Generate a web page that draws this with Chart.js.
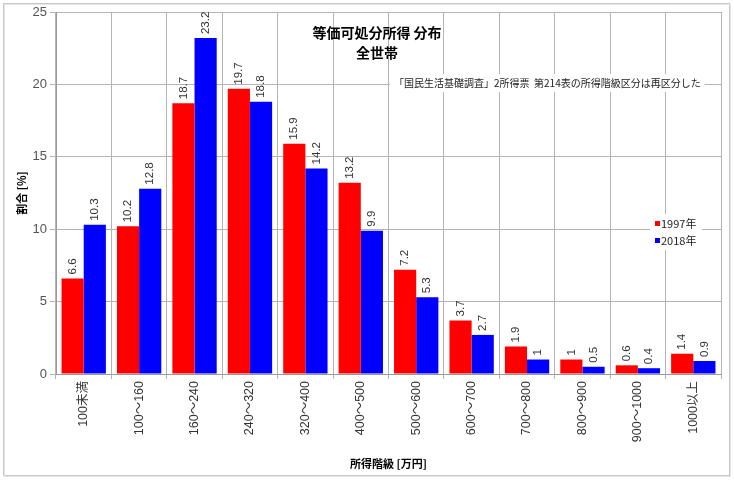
<!DOCTYPE html>
<html>
<head>
<meta charset="utf-8">
<script src="https://cdn.jsdelivr.net/npm/chart.js@4.4.1/dist/chart.umd.min.js"></script>
<style>
  html, body { margin: 0; padding: 0; background: #fff; }
  #wrap { width: 734px; height: 480px; position: relative; }
</style>
</head>
<body>
<div id="wrap"><canvas id="chart" width="734" height="480"></canvas></div>
<script>
// dati del grafico
var categories = ["100未満", "100～160", "160～240", "240～320", "320～400", "400～500",
                  "500～600", "600～700", "700～800", "800～900", "900～1000", "1000以上"];
var values1997 = [6.6, 10.2, 18.7, 19.7, 15.9, 13.2, 7.2, 3.7, 1.9, 1, 0.6, 1.4];
var values2018 = [10.3, 12.8, 23.2, 18.8, 14.2, 9.9, 5.3, 2.7, 1, 0.5, 0.4, 0.9];
var seriesNames = ["1997年", "2018年"];
var yTicks = [0, 5, 10, 15, 20, 25];
var titleLines = ["等価可処分所得 分布", "全世帯"];
var noteText = "「国民生活基礎調査」2所得票  第214表の所得階級区分は再区分した";

var jpFont = "'Noto Sans CJK JP', 'Liberation Sans', sans-serif";
var numFont = "'Liberation Sans', 'Noto Sans CJK JP', sans-serif";

//plugin per cornice, titolo, nota, legenda ed etichette
var decorPlugin = {
  id: "decor",
  beforeDraw: function(chart) {
    var ctx = chart.ctx;
    ctx.save();
    ctx.fillStyle = "#fff";
    ctx.fillRect(0, 0, chart.width, chart.height);
    ctx.strokeStyle = "#c8c8c8";
    ctx.lineWidth = 1;
    ctx.strokeRect(3.5, 3.5, chart.width - 8, chart.height - 8);
    ctx.strokeStyle = "#e4e4e4";
    ctx.strokeRect(4.5, 4.5, chart.width - 8, chart.height - 8);
    ctx.restore();
  },
  afterDatasetsDraw: function(chart) {
    var ctx = chart.ctx;
    ctx.save();

    // etichette dei valori, ruotate
    ctx.font = "11.5px " + numFont;
    ctx.fillStyle = "#333";
    ctx.textAlign = "left";
    ctx.textBaseline = "middle";
    chart.data.datasets.forEach(function(ds, i) {
      var meta = chart.getDatasetMeta(i);
      meta.data.forEach(function(bar, j) {
        ctx.save();
        ctx.translate(bar.x, bar.y - 4);
        ctx.rotate(-Math.PI / 2);
        ctx.fillText(String(ds.data[j]), 0, 0);
        ctx.restore();
      });
    });

    // titolo
    ctx.fillStyle = "#000";
    ctx.textAlign = "center";
    ctx.font = "bold 14px " + jpFont;
    ctx.fillText(titleLines[0], 377, 33);
    ctx.fillText(titleLines[1], 377, 53);

    // nota
    ctx.font = "10px " + jpFont;
    ctx.textAlign = "left";
    var w = ctx.measureText(noteText).width;
    ctx.fillStyle = "#fff";
    ctx.fillRect(390, 74, w + 8, 18);
    ctx.fillStyle = "#222";
    ctx.fillText(noteText, 394, 83);

    // legenda
    ctx.fillStyle = "#fff";
    ctx.fillRect(650, 214, 52, 36);
    ctx.font = "11px " + jpFont;
    chart.data.datasets.forEach(function(ds, i) {
      var y = 224 + i * 17;
      ctx.fillStyle = ds.backgroundColor;
      ctx.fillRect(655, y - 3, 5, 5);
      ctx.fillStyle = "#222";
      ctx.fillText(ds.label, 661, y);
    });

    ctx.restore();
  }
};

var ctxBar = document.getElementById("chart");
var barChart = new Chart(ctxBar, {
  type: "bar",
  data: {
    labels: categories,
    datasets: [
      {
        label: seriesNames[0],
        data: values1997,
        backgroundColor: "#ff0000",
        barPercentage: 1,
        categoryPercentage: 0.8
      },
      {
        label: seriesNames[1],
        data: values2018,
        backgroundColor: "#0000ff",
        barPercentage: 1,
        categoryPercentage: 0.8
      }
    ]
  },
  options: {
    responsive: false,
    animation: false,
    layout: { padding: { left: 0, right: 13, top: 12, bottom: 0 } },
    plugins: {
      legend: { display: false },
      tooltip: { enabled: false }
    },
    scales: {
      x: {
        offset: true,
        grid: {
          offset: true,
          color: "#b4b4b4",
          tickLength: 5,
          drawOnChartArea: true
        },
        border: { color: "#9a9a9a" },
        ticks: {
          autoSkip: false,
          maxRotation: 90,
          minRotation: 90,
          padding: 2,
          color: "#333",
          font: { family: numFont, size: 12.5 }
        },
        title: {
          display: true,
          text: "所得階級 [万円]",
          color: "#000",
          font: { family: jpFont, size: 11, weight: "bold" },
          padding: { top: 0, bottom: 10 }
        },
        afterFit: function(scale) { scale.height = 106; }
      },
      y: {
        min: 0,
        max: 25,
        afterBuildTicks: function(scale) {
          scale.ticks = yTicks.map(function(v) { return { value: v }; });
        },
        grid: { color: "#b4b4b4", tickLength: 6 },
        border: { color: "#9a9a9a" },
        ticks: {
          padding: 3,
          color: "#555",
          font: { family: numFont, size: 13 }
        },
        title: {
          display: true,
          text: "割合 [%]",
          color: "#000",
          font: { family: jpFont, size: 11, weight: "bold" },
          padding: { top: 15, bottom: 0 }
        },
        afterFit: function(scale) { scale.width = 56; }
      }
    }
  },
  plugins: [decorPlugin]
});
</script>
</body>
</html>
